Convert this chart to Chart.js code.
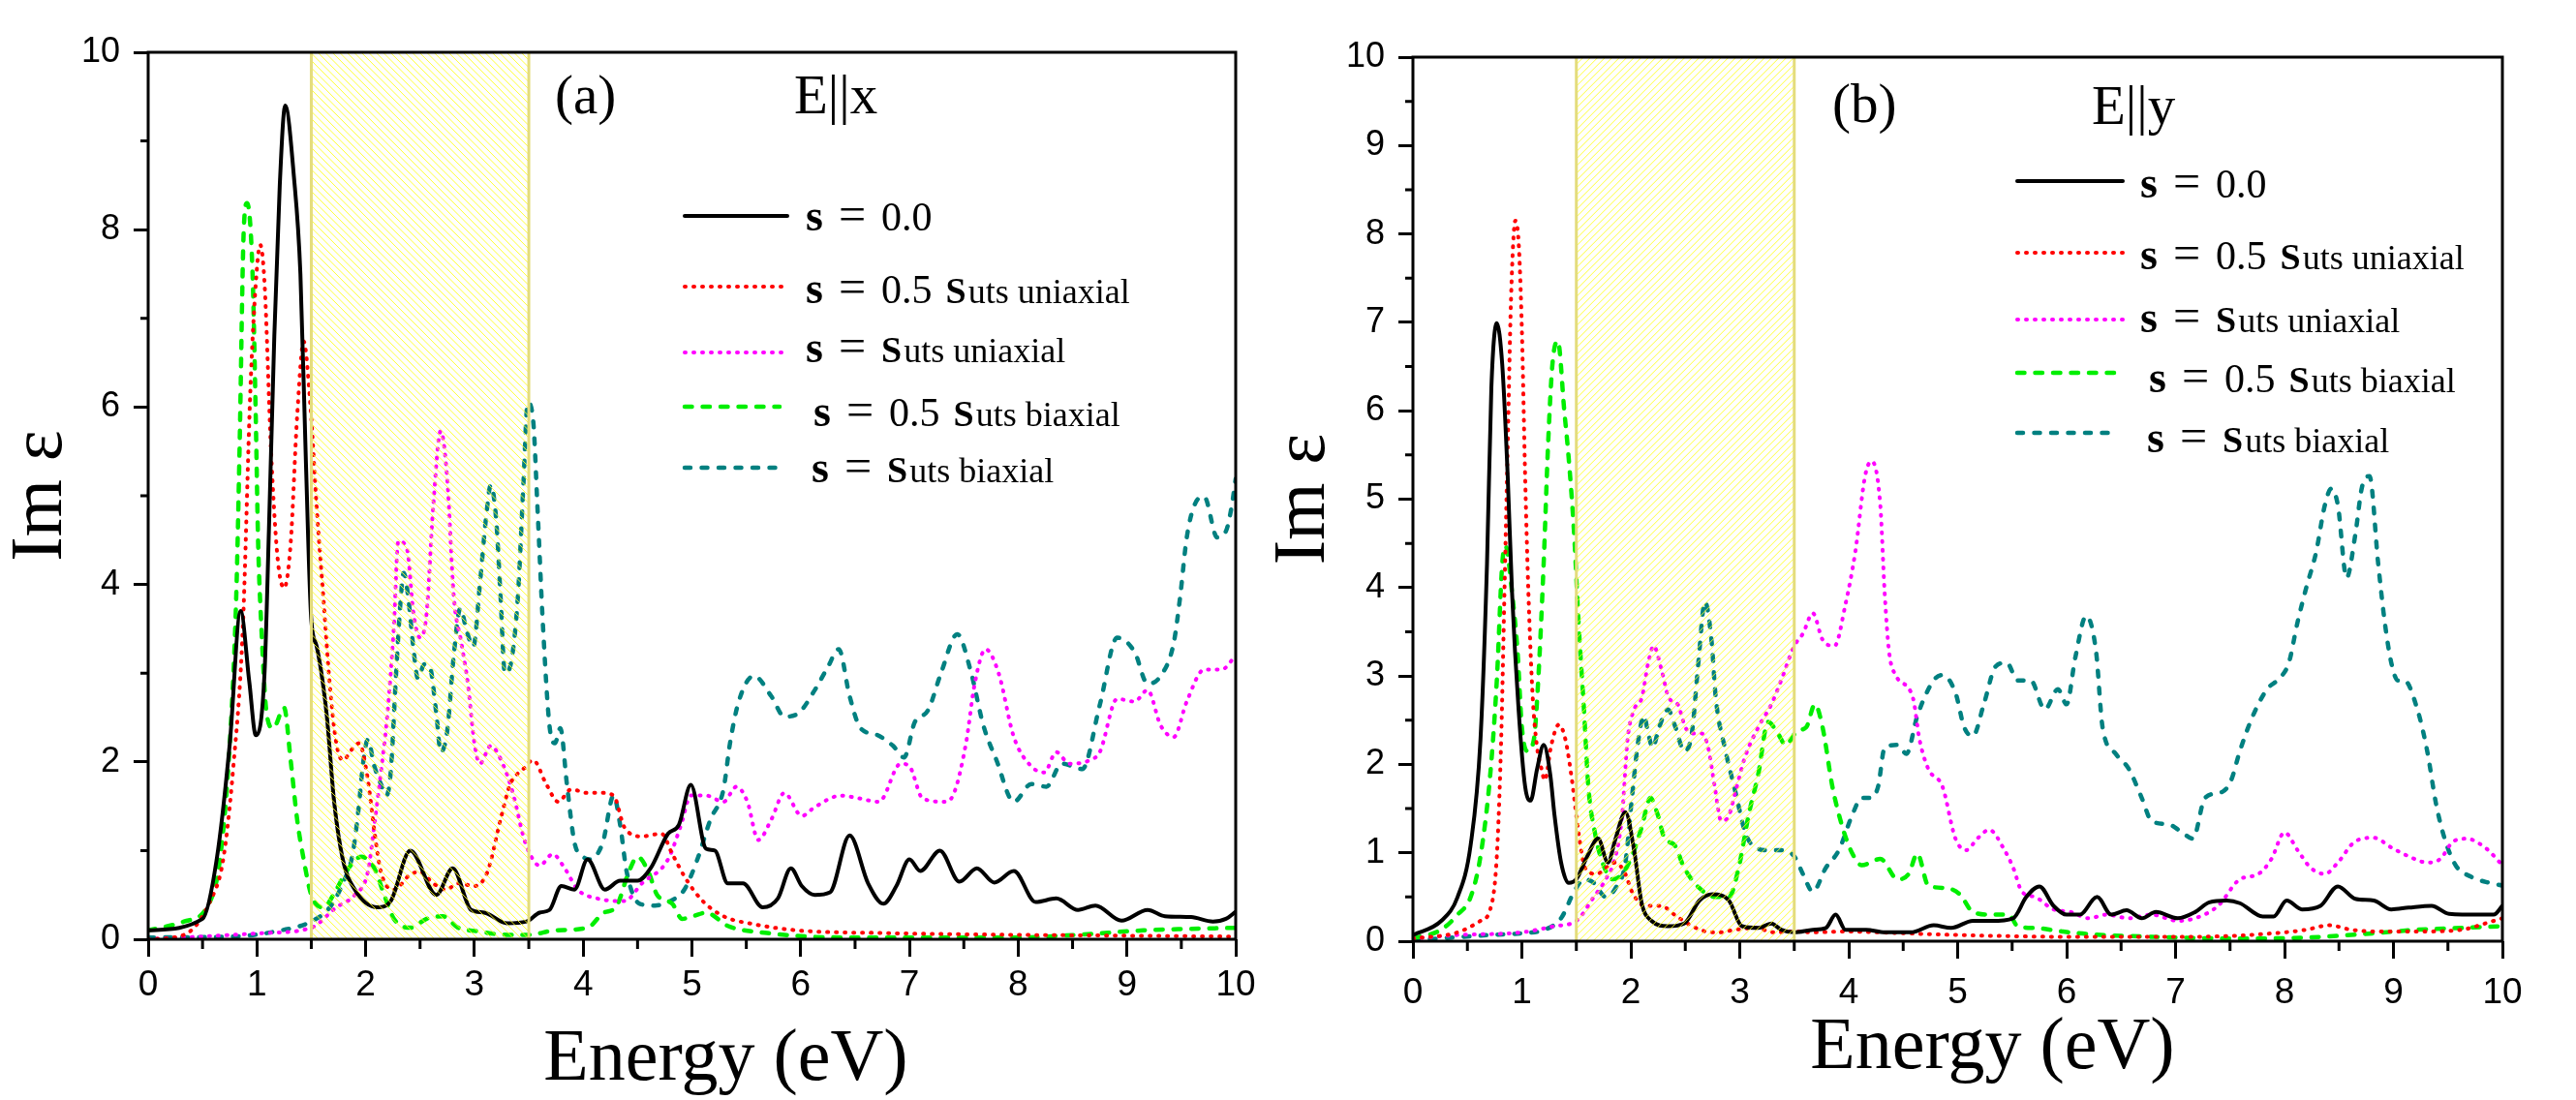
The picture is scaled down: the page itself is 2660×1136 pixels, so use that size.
<!DOCTYPE html>
<html><head><meta charset="utf-8">
<script src="https://cdn.jsdelivr.net/npm/chart.js@4.4.1/dist/chart.umd.min.js"></script>
<style>
html,body{margin:0;padding:0;background:#fff;width:2660px;height:1136px;overflow:hidden;}
#ca{position:absolute;left:0;top:0;}
#cb{position:absolute;left:1290px;top:0;}
</style></head><body>
<canvas id="ca" width="1330" height="1136"></canvas>
<canvas id="cb" width="1370" height="1136"></canvas>
<script>
// ---------- axis ticks ----------
const X_TICKS = [0,1,2,3,4,5,6,7,8,9,10];
const X_MINOR = [0.5,1.5,2.5,3.5,4.5,5.5,6.5,7.5,8.5,9.5];
const Y_TICKS_A = [0,2,4,6,8,10];
const Y_MINOR_A = [1,3,5,7,9];
const Y_TICKS_B = [0,1,2,3,4,5,6,7,8,9,10];
const Y_MINOR_B = [0.5,1.5,2.5,3.5,4.5,5.5,6.5,7.5,8.5,9.5];
const BAND = [1.5, 3.5];

// ---------- series names ----------
const SERIES_NAMES = ['s = 0.0','s = 0.5 suts uniaxial','s = suts uniaxial','s = 0.5 suts biaxial','s = suts biaxial'];
const LEGEND_NUM = ['0.0','0.5','','0.5',''];
const LEGEND_KIND = ['','uniaxial','uniaxial','biaxial','biaxial'];

// ---------- panel (a) E||x ----------
const A_S0_E = [0,0.5,0.63,0.75,0.85,0.93,0.99,1.07,1.11,1.16,1.21,1.26,1.34,1.40,1.45,1.50,1.55,1.64,1.71,1.79,1.90,2.11,2.23,2.41,2.65,2.80,2.97,3.09,3.30,3.48,3.60,3.69,3.80,3.92,4.04,4.20,4.34,4.50,4.62,4.78,4.88,4.99,5.13,5.21,5.33,5.47,5.65,5.79,5.91,6.01,6.13,6.27,6.45,6.62,6.76,6.88,7.00,7.10,7.28,7.46,7.62,7.78,7.96,8.16,8.35,8.55,8.71,8.95,9.19,9.35,9.59,9.79,9.91,10.0];
const A_S0_V = [0.1,0.23,0.9,2.2,3.7,2.9,2.3,3.0,4.6,6.8,8.5,9.4,8.6,7.5,5.4,3.6,3.3,2.55,1.55,0.9,0.56,0.36,0.43,1.0,0.5,0.8,0.33,0.3,0.18,0.2,0.3,0.33,0.6,0.56,0.9,0.56,0.66,0.66,0.8,1.19,1.29,1.74,1.02,1.0,0.63,0.63,0.36,0.46,0.8,0.6,0.5,0.53,1.17,0.63,0.4,0.6,0.9,0.77,1.0,0.65,0.8,0.64,0.77,0.42,0.46,0.33,0.38,0.21,0.33,0.26,0.25,0.2,0.23,0.31];

const A_U05_E = [0,0.33,0.57,0.69,0.78,0.87,0.94,0.99,1.03,1.07,1.13,1.19,1.25,1.31,1.37,1.43,1.49,1.55,1.61,1.67,1.73,1.79,1.88,1.94,2.02,2.08,2.14,2.26,2.41,2.50,2.62,2.74,2.85,3.00,3.12,3.24,3.33,3.45,3.54,3.66,3.77,3.89,4.04,4.18,4.28,4.38,4.54,4.72,4.82,4.94,5.10,5.29,5.57,5.97,6.76,7.96,9.0,10];
const A_U05_V = [0,0.05,0.43,0.9,1.9,3.5,6.2,7.4,7.83,7.4,5.5,4.3,3.96,4.46,5.9,6.74,6.05,4.86,3.87,2.87,2.21,2.02,2.15,2.21,1.8,1.22,0.76,0.56,0.73,0.76,0.63,0.56,0.63,0.6,0.76,1.35,1.75,1.92,2.02,1.75,1.55,1.69,1.65,1.65,1.62,1.26,1.16,1.19,0.96,0.69,0.43,0.26,0.17,0.1,0.07,0.05,0.04,0.03];

const A_U10_E = [0,1.07,1.5,1.73,1.9,2.02,2.08,2.14,2.2,2.26,2.3,2.38,2.44,2.5,2.56,2.62,2.69,2.75,2.81,2.88,2.94,3.0,3.05,3.15,3.27,3.36,3.45,3.51,3.6,3.72,3.83,3.95,4.13,4.38,4.54,4.78,4.9,4.99,5.13,5.29,5.41,5.51,5.61,5.73,5.85,6.01,6.13,6.37,6.53,6.72,6.92,7.0,7.12,7.32,7.4,7.52,7.6,7.7,7.82,7.96,8.12,8.24,8.35,8.47,8.66,8.75,8.91,9.07,9.19,9.31,9.43,9.55,9.71,9.87,10];
const A_U10_V = [0,0.07,0.13,0.36,0.5,0.76,1.29,1.88,2.54,3.54,4.49,4.4,3.67,3.4,3.67,4.86,5.73,5.19,3.87,3.34,2.88,2.21,1.98,2.18,1.95,1.62,1.16,0.96,0.83,0.96,0.8,0.56,0.46,0.43,0.63,0.9,1.29,1.62,1.62,1.55,1.72,1.55,1.12,1.35,1.65,1.39,1.49,1.62,1.59,1.55,1.98,1.95,1.59,1.55,1.62,2.21,2.88,3.27,3.0,2.28,1.95,1.88,2.11,1.98,2.02,2.11,2.71,2.68,2.81,2.41,2.28,2.68,3.04,3.04,3.2];

const A_B05_E = [0,0.33,0.54,0.66,0.75,0.81,0.84,0.88,0.91,0.96,0.99,1.01,1.04,1.09,1.15,1.25,1.31,1.37,1.43,1.5,1.61,1.73,1.82,1.96,2.08,2.17,2.26,2.41,2.56,2.71,2.85,3.03,3.3,3.5,3.74,4.04,4.19,4.3,4.42,4.5,4.6,4.68,4.82,4.91,5.01,5.13,5.33,5.69,6.37,7.96,8.55,9.15,10];
const A_B05_V = [0.1,0.2,0.36,0.9,2.2,3.87,5.5,8.03,8.3,7.5,5.85,4.53,3.54,2.54,2.38,2.61,2.02,1.35,0.9,0.5,0.36,0.56,0.76,0.93,0.8,0.5,0.23,0.13,0.23,0.26,0.13,0.09,0.05,0.05,0.1,0.13,0.3,0.36,0.76,0.93,0.76,0.5,0.4,0.23,0.26,0.3,0.15,0.07,0.02,0.02,0.05,0.1,0.13];

const A_B10_E = [0,0.78,1.22,1.5,1.67,1.79,1.88,1.93,1.98,2.02,2.08,2.14,2.19,2.23,2.28,2.32,2.35,2.39,2.44,2.48,2.54,2.59,2.65,2.69,2.75,2.81,2.87,2.93,2.99,3.05,3.11,3.15,3.2,3.24,3.28,3.34,3.4,3.45,3.49,3.54,3.58,3.63,3.69,3.74,3.79,3.85,3.92,4.0,4.06,4.18,4.28,4.34,4.4,4.52,4.66,4.8,4.93,5.05,5.17,5.29,5.35,5.43,5.57,5.73,5.85,5.97,6.13,6.25,6.35,6.45,6.55,6.69,6.85,6.95,7.05,7.17,7.29,7.44,7.56,7.68,7.8,7.96,8.12,8.26,8.4,8.59,8.75,8.91,9.07,9.19,9.31,9.43,9.49,9.55,9.63,9.71,9.83,9.91,9.96,10];
const A_B10_V = [0.02,0.03,0.1,0.2,0.36,0.63,0.96,1.42,2.02,2.25,1.95,1.75,1.62,1.88,3.0,3.8,4.13,3.87,3.27,2.94,3.1,3.07,2.54,2.11,2.35,3.2,3.73,3.47,3.3,4.0,4.79,5.12,4.73,3.87,3.0,3.14,3.87,5.12,6.05,5.85,4.86,3.54,2.41,2.21,2.38,1.75,1.09,0.93,0.9,1.09,1.62,1.29,0.76,0.4,0.38,0.43,0.56,0.9,1.35,1.69,2.21,2.68,2.97,2.74,2.51,2.54,2.81,3.07,3.27,2.74,2.38,2.31,2.18,2.05,2.45,2.58,3.0,3.44,3.04,2.41,2.02,1.55,1.75,1.72,1.98,1.92,2.64,3.4,3.24,2.88,2.97,3.34,3.87,4.53,4.92,4.99,4.53,4.6,4.86,5.19];

// ---------- panel (b) E||y ----------
const B_S0_E = [0,0.26,0.41,0.53,0.62,0.68,0.72,0.77,0.82,0.87,0.91,0.97,1.03,1.08,1.14,1.2,1.26,1.3,1.36,1.43,1.5,1.6,1.7,1.79,1.86,1.95,2.03,2.1,2.19,2.34,2.49,2.63,2.75,2.9,3.02,3.17,3.29,3.38,3.5,3.67,3.79,3.88,3.97,4.16,4.33,4.57,4.78,4.94,5.14,5.31,5.51,5.63,5.75,5.88,6.0,6.12,6.28,6.41,6.55,6.69,6.82,7.02,7.18,7.31,7.47,7.59,7.8,7.9,8.02,8.16,8.33,8.49,8.65,8.82,8.98,9.14,9.35,9.51,9.8,9.92,10];
const B_S0_V = [0.07,0.23,0.5,1.09,2.28,4.27,6.26,6.99,6.52,5.26,3.94,2.62,1.75,1.59,1.95,2.22,1.89,1.42,0.89,0.66,0.7,0.96,1.16,0.89,1.16,1.46,1.03,0.43,0.23,0.17,0.2,0.46,0.53,0.46,0.17,0.15,0.2,0.13,0.1,0.13,0.15,0.3,0.13,0.13,0.1,0.1,0.18,0.15,0.23,0.23,0.26,0.5,0.62,0.4,0.3,0.3,0.5,0.3,0.35,0.26,0.33,0.26,0.33,0.44,0.46,0.43,0.28,0.28,0.46,0.36,0.4,0.62,0.48,0.46,0.36,0.38,0.4,0.31,0.3,0.3,0.4];

const B_U05_E = [0,0.41,0.62,0.71,0.77,0.81,0.84,0.87,0.9,0.94,0.97,1.0,1.03,1.06,1.1,1.14,1.18,1.21,1.27,1.34,1.4,1.46,1.52,1.58,1.69,1.77,1.86,1.95,2.01,2.13,2.28,2.4,2.55,2.69,2.81,2.96,3.14,3.32,3.5,3.67,3.97,4.27,5.0,6.0,7.18,8.0,8.2,8.41,8.61,8.82,9.22,9.63,9.84,10];
const B_U05_V = [0.03,0.1,0.23,0.36,0.96,2.28,3.94,5.6,7.25,8.15,7.91,6.92,5.26,3.94,2.75,2.19,1.95,1.82,2.22,2.45,2.28,1.82,1.23,0.83,0.76,0.83,0.89,0.76,0.56,0.4,0.4,0.3,0.18,0.11,0.1,0.13,0.15,0.1,0.11,0.1,0.11,0.1,0.07,0.05,0.05,0.1,0.13,0.18,0.13,0.11,0.11,0.13,0.2,0.26];

const B_U10_E = [0,0.41,1.0,1.3,1.5,1.66,1.77,1.86,1.92,1.97,2.03,2.1,2.16,2.21,2.28,2.35,2.43,2.5,2.58,2.65,2.71,2.77,2.83,2.9,2.96,3.05,3.17,3.29,3.38,3.5,3.58,3.67,3.76,3.87,3.97,4.06,4.15,4.21,4.29,4.33,4.37,4.43,4.59,4.65,4.73,4.86,4.98,5.08,5.18,5.29,5.43,5.51,5.59,5.71,5.88,6.04,6.2,6.37,6.57,6.78,7.02,7.18,7.39,7.59,7.76,7.88,8.0,8.12,8.24,8.37,8.49,8.65,8.82,8.98,9.14,9.31,9.43,9.55,9.67,9.84,10];
const B_U10_V = [0.03,0.07,0.1,0.17,0.23,0.5,0.7,0.96,1.42,2.28,2.62,2.75,3.15,3.34,3.08,2.75,2.68,2.42,2.35,2.35,2.19,1.75,1.36,1.42,1.69,2.09,2.42,2.68,2.95,3.34,3.48,3.71,3.41,3.34,3.81,4.4,5.26,5.43,4.93,3.94,3.28,3.01,2.75,2.28,1.95,1.75,1.16,1.03,1.16,1.26,1.03,0.83,0.56,0.5,0.36,0.33,0.26,0.3,0.26,0.3,0.23,0.26,0.4,0.7,0.76,0.93,1.23,1.03,0.83,0.76,0.89,1.13,1.17,1.06,0.96,0.89,0.93,1.13,1.16,1.06,0.86];

const B_B05_E = [0,0.26,0.41,0.53,0.62,0.71,0.77,0.82,0.85,0.91,0.96,1.0,1.05,1.11,1.15,1.2,1.24,1.28,1.33,1.39,1.43,1.48,1.52,1.57,1.61,1.67,1.74,1.83,1.92,2.01,2.1,2.18,2.25,2.31,2.4,2.49,2.63,2.78,2.9,2.99,3.08,3.17,3.26,3.35,3.42,3.53,3.61,3.69,3.76,3.85,3.94,4.03,4.12,4.29,4.45,4.55,4.63,4.73,4.9,5.02,5.14,5.31,5.47,5.55,5.71,5.96,6.2,6.78,7.59,8.2,8.82,9.22,9.63,10];
const B_B05_V = [0.03,0.13,0.3,0.5,0.96,1.89,2.95,4.27,4.47,3.94,3.28,2.42,2.15,2.28,2.95,4.27,5.6,6.52,6.79,5.99,5.46,4.6,3.61,2.62,1.75,1.23,0.89,0.7,0.76,0.96,1.29,1.62,1.42,1.16,1.09,0.83,0.6,0.5,0.5,0.83,1.42,1.89,2.48,2.35,2.22,2.38,2.42,2.68,2.42,1.75,1.3,1.0,0.86,0.93,0.7,0.76,0.99,0.63,0.6,0.53,0.33,0.3,0.3,0.17,0.15,0.11,0.08,0.05,0.03,0.04,0.09,0.13,0.15,0.17];

const B_B10_E = [0,0.71,1.0,1.21,1.36,1.48,1.57,1.66,1.77,1.86,1.95,2.01,2.07,2.12,2.16,2.2,2.26,2.34,2.41,2.49,2.56,2.62,2.68,2.74,2.78,2.87,2.96,3.05,3.14,3.26,3.38,3.5,3.58,3.67,3.79,3.91,4.03,4.12,4.2,4.27,4.33,4.45,4.53,4.63,4.78,4.86,4.98,5.06,5.14,5.24,5.35,5.45,5.55,5.67,5.8,5.92,6.0,6.08,6.18,6.27,6.33,6.45,6.57,6.69,6.78,6.94,7.06,7.16,7.27,7.43,7.51,7.59,7.71,7.84,7.96,8.04,8.12,8.2,8.29,8.37,8.43,8.49,8.57,8.65,8.71,8.78,8.86,8.92,8.98,9.04,9.1,9.22,9.31,9.39,9.47,9.57,9.71,9.88,10];
const B_B10_V = [0.01,0.07,0.09,0.13,0.26,0.56,0.7,0.66,0.5,0.6,0.89,1.62,2.28,2.55,2.35,2.19,2.42,2.62,2.42,2.15,2.35,3.15,3.84,3.41,2.75,2.15,1.69,1.23,1.06,1.03,1.03,0.96,0.76,0.56,0.83,1.03,1.42,1.62,1.62,1.75,2.19,2.22,2.12,2.55,2.95,3.01,2.81,2.42,2.32,2.68,3.11,3.15,2.95,2.95,2.62,2.85,2.68,3.21,3.68,3.28,2.42,2.12,1.95,1.62,1.36,1.32,1.23,1.16,1.62,1.69,1.82,2.15,2.55,2.85,2.98,3.15,3.61,4.0,4.4,4.93,5.12,4.93,4.11,4.6,5.13,5.26,4.27,3.61,3.15,2.95,2.95,2.62,2.15,1.56,1.16,0.86,0.73,0.66,0.63];

// ---------- styles ----------
const STYLES = [
  {color:'#000000', width:4,   dash:[],        cap:'round'},
  {color:'#ff0000', width:4,   dash:[1,8],     cap:'round'},
  {color:'#ff00ff', width:4,   dash:[1,8],     cap:'round'},
  {color:'#00ee00', width:4.5, dash:[7.5,11],  cap:'round'},
  {color:'#008080', width:4.5, dash:[6,11.5],  cap:'round'}
];
const SERIF = '"Liberation Serif","Times New Roman",serif';
const SANS = '"Liberation Sans",Arial,sans-serif';

function buildDatasets(pairs){
  return pairs.map((p,i)=>({
    label: SERIES_NAMES[i],
    data: p[0].map((e,k)=>({x:e, y:p[1][k]})),
    borderColor: STYLES[i].color,
    borderWidth: STYLES[i].width,
    borderDash: STYLES[i].dash,
    borderCapStyle: STYLES[i].cap,
    borderJoinStyle: 'round',
    pointRadius: 0,
    fill: false,
    cubicInterpolationMode: 'monotone'
  }));
}

const decoPlugin = {
  id: 'deco',
  afterDatasetsDraw(chart, args, o){
    const {ctx, chartArea:a, scales:{x}} = chart;
    const x1 = x.getPixelForValue(BAND[0]), x2 = x.getPixelForValue(BAND[1]);
    const H = a.bottom - a.top;
    ctx.save();
    ctx.beginPath(); ctx.rect(x1, a.top, x2-x1, H); ctx.clip();
    ctx.strokeStyle = '#ffff22'; ctx.lineWidth = 0.9;
    ctx.beginPath();
    for (let k = -H; k <= (x2-x1)+H; k += 7.5){
      if (o.hatchDir > 0){ ctx.moveTo(x1+k, a.bottom); ctx.lineTo(x1+k+H, a.top); }
      else { ctx.moveTo(x1+k, a.top); ctx.lineTo(x1+k+H, a.bottom); }
    }
    ctx.stroke();
    ctx.restore();
    ctx.save();
    ctx.strokeStyle = '#e4dc7c'; ctx.lineWidth = 3;
    ctx.beginPath();
    ctx.moveTo(x1, a.top); ctx.lineTo(x1, a.bottom);
    ctx.moveTo(x2, a.top); ctx.lineTo(x2, a.bottom);
    ctx.stroke();
    ctx.restore();
  },
  afterDraw(chart, args, o){
    const {ctx, chartArea:a, scales:{x, y}} = chart;
    ctx.save();
    // frame
    ctx.strokeStyle = '#000'; ctx.lineWidth = 3; ctx.setLineDash([]);
    ctx.strokeRect(a.left, a.top, a.right-a.left, a.bottom-a.top);
    // minor ticks
    ctx.beginPath();
    for (const v of X_MINOR){ const px = x.getPixelForValue(v); ctx.moveTo(px, a.bottom); ctx.lineTo(px, a.bottom+10); }
    for (const v of o.yMinor){ const py = y.getPixelForValue(v); ctx.moveTo(a.left, py); ctx.lineTo(a.left-8, py); }
    ctx.stroke();
    // x title
    ctx.fillStyle = '#000';
    ctx.font = '76px ' + SERIF; ctx.textAlign = 'center'; ctx.textBaseline = 'alphabetic';
    ctx.fillText('Energy (eV)', (a.left+a.right)/2 + o.titleShift, o.titleBase);
    // annotations
    ctx.textAlign = 'left';
    ctx.font = '57px ' + SERIF;
    for (const t of o.notes){ ctx.fillText(t.t, t.x, t.y); }
    // legend
    o.legend.forEach((r, i) => {
      const st = STYLES[i];
      ctx.save();
      ctx.strokeStyle = st.color; ctx.lineWidth = st.width; ctx.setLineDash(st.dash); ctx.lineCap = st.cap;
      ctx.beginPath(); ctx.moveTo(r.x1, r.y); ctx.lineTo(r.x2, r.y); ctx.stroke();
      ctx.restore();
      const segs = [{t:'s', f:'bold 46px '+SERIF, g:16}, {t:'=', f:'50px '+SERIF, g:16}];
      if (LEGEND_NUM[i]) segs.push({t:LEGEND_NUM[i], f:'42px '+SERIF, g:14});
      if (LEGEND_KIND[i]){ segs.push({t:'S', f:'bold 38px '+SERIF, g:2}); segs.push({t:'uts '+LEGEND_KIND[i], f:'36px '+SERIF, g:0}); }
      let tx = r.tx;
      ctx.fillStyle = '#000'; ctx.textAlign = 'left';
      for (const s of segs){ ctx.font = s.f; ctx.fillText(s.t, tx, r.base); tx += ctx.measureText(s.t).width + s.g; }
    });
    ctx.restore();
  }
};

function makeChart(id, datasets, yTicks, yMinor, yWidth, xHeight, pad, titlePad, deco){
  return new Chart(document.getElementById(id), {
    type: 'line',
    data: { datasets },
    plugins: [decoPlugin],
    options: {
      responsive: false, maintainAspectRatio: false, devicePixelRatio: 1, animation: false, events: [],
      layout: { padding: pad },
      plugins: { legend:{display:false}, tooltip:{enabled:false}, deco: Object.assign({yMinor}, deco) },
      scales: {
        x: {
          type: 'linear', min: 0, max: 10,
          afterBuildTicks: s => { s.ticks = X_TICKS.map(v => ({value:v})); },
          ticks: { color:'#000', font:{family:SANS, size:37}, padding: deco.xPad, maxRotation:0, autoSkip:false },
          grid: { display:true, drawOnChartArea:false, drawTicks:true, tickLength:18, tickWidth:3, tickColor:'#000' },
          border: { display:false },
          afterFit: s => { s.height = xHeight; }
        },
        y: {
          type: 'linear', min: 0, max: 10,
          afterBuildTicks: s => { s.ticks = yTicks.map(v => ({value:v})); },
          ticks: { color:'#000', font:{family:SANS, size:36}, padding: 14, autoSkip:false },
          grid: { display:true, drawOnChartArea:false, drawTicks:true, tickLength:15, tickWidth:3, tickColor:'#000' },
          border: { display:false },
          title: { display:true, text:'Im ε', color:'#000', font:{family:SERIF, size:76, lineHeight:1.0}, padding:{top:titlePad, bottom:0} },
          afterFit: s => { s.width = yWidth; }
        }
      }
    }
  });
}

const dsA = buildDatasets([[A_S0_E,A_S0_V],[A_U05_E,A_U05_V],[A_U10_E,A_U10_V],[A_B05_E,A_B05_V],[A_B10_E,A_B10_V]]);
const dsB = buildDatasets([[B_S0_E,B_S0_V],[B_U05_E,B_U05_V],[B_U10_E,B_U10_V],[B_B05_E,B_B05_V],[B_B10_E,B_B10_V]]);

makeChart('ca', dsA, Y_TICKS_A, Y_MINOR_A, 153, 166, {left:0, top:54, right:54, bottom:0}, 5, {
  hatchDir: -1, xPad: 8, titleShift: 35, titleBase: 1115,
  notes: [{t:'(a)', x:573, y:117}, {t:'E||x', x:820, y:117}],
  legend: [
    {x1:707, x2:813, y:223, tx:832, base:238},
    {x1:707, x2:813, y:296, tx:832, base:313},
    {x1:707, x2:813, y:364, tx:832, base:374},
    {x1:707, x2:805, y:420, tx:840, base:440},
    {x1:707, x2:805, y:483, tx:838, base:498}
  ]
});

makeChart('cb', dsB, Y_TICKS_B, Y_MINOR_B, 169, 164, {left:0, top:59, right:76, bottom:0}, 19, {
  hatchDir: 1, xPad: 14, titleShift: 36, titleBase: 1103,
  notes: [{t:'(b)', x:602, y:126}, {t:'E||y', x:870, y:128}],
  legend: [
    {x1:793, x2:902, y:187, tx:920, base:204},
    {x1:793, x2:902, y:261, tx:920, base:278},
    {x1:793, x2:902, y:330, tx:920, base:343},
    {x1:793, x2:893, y:385, tx:929, base:405},
    {x1:793, x2:893, y:447, tx:927, base:467}
  ]
});
</script>
</body></html>
